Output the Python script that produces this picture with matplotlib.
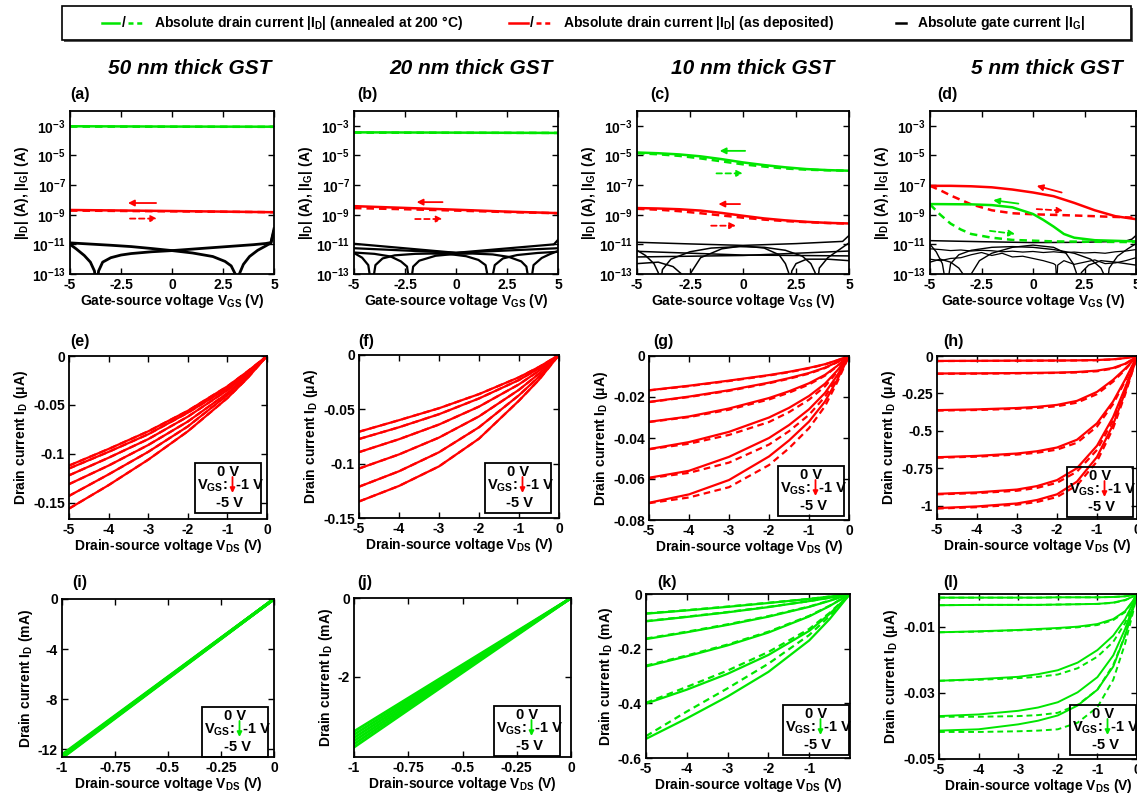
import numpy as np
import matplotlib
matplotlib.use('Agg')
import matplotlib.pyplot as plt
from matplotlib.patches import Rectangle, FancyArrowPatch
from matplotlib.lines import Line2D
from matplotlib.ticker import NullLocator

plt.rcParams['font.family'] = ['Liberation Sans', 'DejaVu Sans']
plt.rcParams['font.weight'] = 'bold'
plt.rcParams['axes.labelweight'] = 'bold'
plt.rcParams['mathtext.fontset'] = 'custom'
for k in ['rm', 'it', 'bf', 'sf']:
    plt.rcParams['mathtext.' + k] = 'Liberation Sans:bold'
plt.rcParams['mathtext.default'] = 'regular'
plt.rcParams['axes.unicode_minus'] = False

GREEN = '#00e600'
RED = '#ff0000'

# ---------------- transfer curves, log10 |I| (A) vs VGS (V) ----------------
vg3 = [-5, 0, 5]
vg5 = [-5, -2.5, 0, 2.5, 5]
vg11 = [-5, -4, -3, -2, -1, 0, 1, 2, 3, 4, 5]

# (a) 50 nm
a_green_solid = [-3.03, -3.05, -3.06]
a_green_dash = [-3.05, -3.06, -3.07]
a_red_solid = [-8.68, -8.75, -8.83]
a_red_dash = [-8.72, -8.77, -8.83]
a_gate1_x = [-5, -4, -3, -2, -1, 0, 1, 2, 2.6, 2.9, 3.1, 3.2, 3.3, 3.5, 3.8, 4.2, 4.6, 4.85, 5.0]
a_gate1 = [-10.9, -10.98, -11.06, -11.15, -11.28, -11.42, -11.58, -11.82, -12.15, -12.45, -13.0, -14.0,
           -13.0, -12.35, -11.82, -11.4, -11.1, -10.9, -10.1]
a_gate2_x = [-5, -4.7, -4.3, -4.0, -3.8, -3.7, -3.6, -3.4, -3, -2.5, -2, -1, 0, 1, 2, 3, 4, 4.6, 4.85, 5.0]
a_gate2 = [-11.0, -11.3, -11.75, -12.2, -12.8, -14.0, -12.8, -12.2, -11.9, -11.72, -11.62, -11.5, -11.42,
           -11.32, -11.22, -11.12, -11.02, -10.94, -10.88, -9.95]

# (b) 20 nm
b_green_solid = [-3.44, -3.46, -3.48]
b_green_dash = [-3.46, -3.47, -3.48]
b_red_solid = [-8.42, -8.54, -8.66, -8.79, -8.89]
b_red_dash = [-8.55, -8.63, -8.72, -8.82, -8.9]
b_line1 = [-10.96, -11.57, -11.26]
b_line2_x = [-5, 0, 4.8, 5]
b_line2 = [-11.26, -11.57, -11.0, -10.7]
b_arc1_x = [-5, -4.6, -4.3, -4.13, -3.95, -3.6, -3, -2, -1.2, -0.3, 0.5, 1.1, 1.45, 1.67, 1.9, 2.3, 3, 4, 5]
b_arc1 = [-11.58, -11.9, -12.4, -14.0, -12.4, -11.95, -11.74, -11.64, -11.62, -11.66, -11.8, -12.05,
          -12.4, -14.0, -12.4, -11.95, -11.72, -11.58, -11.5]
b_arc2_x = [-5, -4, -3.2, -2.7, -2.4, -2.25, -2.1, -1.8, -1, 0, 0.8, 1.8, 2.6, 3.2, 3.45, 3.63, 3.8, 4.2, 4.6, 5]
b_arc2 = [-11.55, -11.64, -11.82, -12.15, -12.5, -14.0, -12.5, -12.1, -11.77, -11.64, -11.62, -11.68,
          -11.85, -12.15, -12.5, -14.0, -12.4, -11.92, -11.66, -11.45]

# (c) 10 nm
c_green_solid = [-4.80, -4.85, -4.93, -5.06, -5.25, -5.47, -5.65, -5.80, -5.92, -5.99, -6.03]
c_green_dash = [-4.85, -4.92, -5.03, -5.20, -5.40, -5.60, -5.75, -5.88, -5.96, -6.00, -6.03]
c_red_solid = [-8.55, -8.58, -8.63, -8.72, -8.88, -9.07, -9.25, -9.38, -9.48, -9.55, -9.59]
c_red_dash = [-8.60, -8.66, -8.76, -8.90, -9.05, -9.20, -9.33, -9.43, -9.50, -9.56, -9.60]
c_line1_x = [-5, -2.5, 0, 2.5, 4.7, 5]
c_line1 = [-10.86, -10.97, -11.07, -10.95, -10.8, -10.4]
c_line2 = [-11.47, -11.72, -11.78]
c_line3 = [-11.85, -11.75, -11.45]
c_arc1_x = [-5, -4.6, -4.2, -4.0, -3.92, -3.8, -3.4, -2.5, -1.5, -0.2, 1, 2, 2.8, 3.2, 3.4, 3.48, 3.6, 4, 4.5, 5]
c_arc1 = [-11.4, -11.75, -12.3, -12.9, -14.0, -12.7, -12.0, -11.5, -11.25, -11.15, -11.2, -11.4, -11.8,
          -12.3, -12.9, -14.0, -12.6, -11.9, -11.4, -10.9]
c_arc2_x = [-5, -4, -3.3, -2.9, -2.7, -2.58, -2.45, -2, -1, 0, 1, 1.7, 2.0, 2.15, 2.22, 2.3, 2.5, 3, 4, 5]
c_arc2 = [-12.3, -12.2, -12.5, -13.0, -13.5, -14.0, -12.9, -11.9, -11.3, -11.1, -11.25, -11.7, -12.3,
          -12.9, -14.0, -12.8, -12.3, -12.0, -12.0, -12.1]

# (d) 5 nm
d_red_solid_x = [-5, -4, -3, -2, -1, 0, 1, 2, 3, 4, 5]
d_red_solid = [-7.05, -7.05, -7.08, -7.15, -7.3, -7.5, -7.75, -8.2, -8.7, -9.1, -9.3]
d_red_dash_x = [-5, -4.5, -4, -3, -2, -1, 0, 2, 5]
d_red_dash = [-7.05, -7.35, -7.7, -8.3, -8.7, -8.9, -8.97, -9.05, -9.2]
d_green_solid_x = [-5, -3, -2, -1, 0, 0.5, 1, 1.5, 2, 3, 5]
d_green_solid = [-8.28, -8.3, -8.35, -8.5, -8.95, -9.35, -9.8, -10.3, -10.55, -10.72, -10.8]
d_green_dash_x = [-5, -4.5, -4, -3.5, -3, -2, -1, 1, 5]
d_green_dash = [-8.3, -9.0, -9.6, -10.0, -10.3, -10.55, -10.7, -10.8, -10.85]
d_line1_x = [-5, -2.5, 0, 2.5, 4.5, 4.8, 5]
d_line1 = [-10.75, -10.82, -10.88, -10.86, -10.78, -10.65, -10.4]
d_noise_x = [-5, -4.5, -4, -3.5, -3, -2.5, -2, -1.5, -1, -0.5, 0, 0.5, 1, 1.5, 2, 2.5, 3, 3.5, 4, 4.5, 5]
d_noise1 = [-11.3, -11.35, -11.42, -11.38, -11.45, -11.4, -11.43, -11.5, -11.46, -11.52, -11.48, -11.55,
            -11.5, -11.56, -11.52, -11.58, -11.55, -11.6, -11.5, -11.45, -11.35]
d_noise2_x = [-5, -4.5, -4, -3.5, -3, -2.5, -2, -1.5, -1, -0.5, 0, 0.5, 1, 1.1, 1.15, 1.2, 1.5, 2, 2.5,
              3, 3.5, 4, 4.5, 5]
d_noise2 = [-12.0, -12.1, -11.95, -11.9, -11.7, -11.55, -11.75, -11.6, -11.85, -11.8, -11.95, -12.1,
            -12.3, -12.4, -13.6, -12.4, -12.1, -12.35, -12.2, -12.05, -12.3, -12.25, -12.1, -11.9]
d_arc1_x = [-5, -4.5, -4, -3.6, -3.3, -3.14, -3.0, -2.6, -2, -1, 0, 1, 1.6, 1.95, 2.1, 2.2, 2.35, 2.7,
            3.3, 4, 5]
d_arc1 = [-12.2, -12.0, -12.2, -12.6, -13.2, -14.0, -13.0, -12.1, -11.6, -11.2, -11.05, -11.2, -11.6,
          -12.3, -12.9, -14.0, -12.9, -12.4, -12.1, -12.2, -12.4]
d_arc2_x = [-5, -4.7, -4.4, -4.19, -4.0, -3.6, -3, -2, -1, 0, 1, 2, 2.8, 3.3, 3.5, 3.58, 3.7, 4.1, 4.6, 5]
d_arc2 = [-11.0, -11.5, -12.3, -14.0, -12.3, -11.7, -11.4, -11.2, -11.15, -11.2, -11.35, -11.6, -12.0,
          -12.6, -13.2, -14.0, -12.6, -11.8, -11.3, -10.95]

# ---------------- output curves, ID vs VDS, VGS = 0 ... -5 V ----------------
vd7 = [-5, -4, -3, -2, -1, -0.5, 0]
vd9 = [-5, -4, -3, -2, -1.5, -1, -0.6, -0.3, 0]
vd11 = [-5, -4, -3, -2.5, -2, -1.5, -1, -0.6, -0.3, -0.1, 0]
vd2 = [-1, 0]

# (e) uA
e_id = [[-0.112, -0.095, -0.077, -0.056, -0.031, -0.016, 0],
        [-0.115, -0.098, -0.080, -0.058, -0.033, -0.017, 0],
        [-0.122, -0.104, -0.085, -0.062, -0.035, -0.018, 0],
        [-0.131, -0.112, -0.091, -0.067, -0.038, -0.020, 0],
        [-0.143, -0.121, -0.098, -0.072, -0.040, -0.021, 0],
        [-0.156, -0.132, -0.106, -0.077, -0.043, -0.023, 0]]
# (f) uA
f_id = [[-0.0706, -0.0600, -0.0490, -0.0360, -0.0205, -0.0110, 0],
        [-0.0773, -0.0665, -0.0545, -0.0400, -0.0230, -0.0123, 0],
        [-0.0894, -0.0775, -0.0640, -0.0475, -0.0270, -0.0145, 0],
        [-0.1045, -0.0915, -0.0760, -0.0565, -0.0320, -0.0172, 0],
        [-0.1212, -0.1070, -0.0895, -0.0665, -0.0370, -0.0200, 0],
        [-0.1348, -0.1205, -0.1025, -0.0770, -0.0420, -0.0228, 0]]
# (g) uA
g_id = [[-0.0167, -0.0145, -0.0120, -0.0093, -0.0077, -0.0058, -0.0040, -0.0021, 0],
        [-0.0224, -0.0198, -0.0167, -0.0130, -0.0108, -0.0083, -0.0057, -0.0030, 0],
        [-0.0321, -0.0295, -0.0256, -0.0205, -0.0172, -0.0133, -0.0092, -0.0049, 0],
        [-0.0454, -0.0420, -0.0370, -0.0300, -0.0253, -0.0195, -0.0135, -0.0072, 0],
        [-0.0594, -0.0560, -0.0492, -0.0400, -0.0337, -0.0260, -0.0180, -0.0096, 0],
        [-0.0716, -0.0675, -0.0605, -0.0490, -0.0412, -0.0320, -0.0222, -0.0118, 0]]
g_id_dash = [[-0.0168, -0.0147, -0.0122, -0.0095, -0.0079, -0.0060, -0.0041, -0.0022, 0],
             [-0.0225, -0.0200, -0.0170, -0.0133, -0.0111, -0.0086, -0.0059, -0.0031, 0],
             [-0.0322, -0.0298, -0.0262, -0.0212, -0.0179, -0.0139, -0.0096, -0.0051, 0],
             [-0.0455, -0.0428, -0.0385, -0.0322, -0.0274, -0.0213, -0.0148, -0.0079, 0],
             [-0.0596, -0.0570, -0.0520, -0.0432, -0.0367, -0.0287, -0.0199, -0.0106, 0],
             [-0.0718, -0.0690, -0.0640, -0.0532, -0.0450, -0.0352, -0.0245, -0.0130, 0]]
# (h) uA
h_id = [[-0.033, -0.032, -0.031, -0.0305, -0.030, -0.029, -0.027, -0.022, -0.014, -0.005, 0],
        [-0.117, -0.116, -0.114, -0.1125, -0.111, -0.107, -0.098, -0.080, -0.052, -0.020, 0],
        [-0.362, -0.357, -0.348, -0.340, -0.327, -0.300, -0.240, -0.160, -0.086, -0.030, 0],
        [-0.677, -0.668, -0.652, -0.637, -0.612, -0.560, -0.450, -0.305, -0.160, -0.055, 0],
        [-0.922, -0.912, -0.893, -0.870, -0.830, -0.750, -0.600, -0.410, -0.215, -0.075, 0],
        [-1.017, -1.006, -0.986, -0.963, -0.925, -0.840, -0.675, -0.460, -0.245, -0.085, 0]]
h_id_dash = [[-0.034, -0.033, -0.032, -0.0315, -0.031, -0.030, -0.028, -0.023, -0.015, -0.005, 0],
             [-0.119, -0.118, -0.116, -0.115, -0.113, -0.110, -0.102, -0.084, -0.055, -0.021, 0],
             [-0.365, -0.361, -0.353, -0.347, -0.336, -0.312, -0.255, -0.172, -0.093, -0.032, 0],
             [-0.680, -0.673, -0.659, -0.647, -0.626, -0.580, -0.472, -0.322, -0.170, -0.058, 0],
             [-0.925, -0.917, -0.901, -0.882, -0.848, -0.773, -0.628, -0.432, -0.228, -0.079, 0],
             [-1.020, -1.011, -0.994, -0.976, -0.943, -0.865, -0.705, -0.485, -0.260, -0.090, 0]]
# (i) mA, value at VDS = -1 V
i_id_end = [-12.42, -12.48, -12.53, -12.58, -12.63, -12.68]
# (j) mA, value at VDS = -1 V
j_id_end = [-3.40, -3.48, -3.56, -3.64, -3.72, -3.80]
# (k) mA
k_id = [[-0.072, -0.060, -0.047, -0.033, -0.018, -0.0095, 0],
        [-0.100, -0.084, -0.067, -0.048, -0.026, -0.0138, 0],
        [-0.165, -0.140, -0.113, -0.083, -0.047, -0.025, 0],
        [-0.265, -0.228, -0.188, -0.141, -0.082, -0.044, 0],
        [-0.401, -0.350, -0.292, -0.223, -0.135, -0.073, 0],
        [-0.530, -0.455, -0.375, -0.285, -0.170, -0.092, 0]]
k_id_dash = [[-0.071, -0.059, -0.046, -0.032, -0.018, -0.0093, 0],
             [-0.099, -0.083, -0.066, -0.047, -0.026, -0.0135, 0],
             [-0.163, -0.138, -0.111, -0.081, -0.046, -0.024, 0],
             [-0.262, -0.225, -0.185, -0.138, -0.080, -0.043, 0],
             [-0.398, -0.340, -0.280, -0.212, -0.128, -0.069, 0],
             [-0.520, -0.430, -0.345, -0.255, -0.150, -0.081, 0]]
# (l) uA
l_id = [[-0.0011, -0.0011, -0.0011, -0.0011, -0.0010, -0.0010, -0.0010, -0.0009, -0.0007, -0.0003, 0],
        [-0.0034, -0.0033, -0.0033, -0.0033, -0.0032, -0.0031, -0.0030, -0.0026, -0.0018, -0.0008, 0],
        [-0.0116, -0.0113, -0.0109, -0.0106, -0.0103, -0.0099, -0.0091, -0.0076, -0.0052, -0.0020, 0],
        [-0.0263, -0.0258, -0.0251, -0.0243, -0.0231, -0.0208, -0.0170, -0.0126, -0.0076, -0.0028, 0],
        [-0.0370, -0.0365, -0.0354, -0.0344, -0.0328, -0.0298, -0.0252, -0.0186, -0.0106, -0.0038, 0],
        [-0.0414, -0.0410, -0.0395, -0.0384, -0.0368, -0.0338, -0.0290, -0.0220, -0.0126, -0.0045, 0]]
l_id_dash = [[-0.0011, -0.0011, -0.0011, -0.0011, -0.0010, -0.0010, -0.0010, -0.0009, -0.0007, -0.0003, 0],
             [-0.0034, -0.0033, -0.0033, -0.0033, -0.0032, -0.0031, -0.0030, -0.0027, -0.0019, -0.0008, 0],
             [-0.0116, -0.0114, -0.0110, -0.0108, -0.0105, -0.0101, -0.0094, -0.0079, -0.0055, -0.0021, 0],
             [-0.0263, -0.0260, -0.0255, -0.0251, -0.0244, -0.0225, -0.0190, -0.0145, -0.0088, -0.0032, 0],
             [-0.0372, -0.0372, -0.0370, -0.0367, -0.0360, -0.0336, -0.0290, -0.0215, -0.0125, -0.0045, 0],
             [-0.0418, -0.0418, -0.0416, -0.0414, -0.0410, -0.0390, -0.0343, -0.0260, -0.0150, -0.0055, 0]]

W, H = 1137, 794
fig = plt.figure(figsize=(W / 100, H / 100), dpi=100)


def add_ax(x0, y0, x1, y1):
    ax = fig.add_axes([x0 / W, 1 - y1 / H, (x1 - x0) / W, (y1 - y0) / H])
    ax.tick_params(direction='in', top=True, right=True, length=4, width=1, labelsize=10, pad=3)
    for s in ax.spines.values():
        s.set_linewidth(1.3)
    return ax


def ftext(x, y, s, **kw):
    return fig.text(x / W, 1 - y / H, s, **kw)


def lg(v):
    return 10.0 ** np.array(v)


def arrow(ax, x0, y0, x1, y1, color, dashed=False):
    ax.annotate('', xy=(x1, 10 ** y1), xytext=(x0, 10 ** y0),
                arrowprops=dict(arrowstyle='-|>', color=color, lw=1.3, ls=(0, (3, 2)) if dashed else '-',
                                mutation_scale=9, shrinkA=0, shrinkB=0))


def transfer_axes(box):
    ax = add_ax(*box)
    ax.set_yscale('log')
    ax.set_xlim(-5, 5)
    ax.set_ylim(1e-13, 1e-2)
    ax.set_yticks([1e-13, 1e-11, 1e-9, 1e-7, 1e-5, 1e-3],
                  ['10$^{-13}$', '10$^{-11}$', '10$^{-9}$', '10$^{-7}$', '10$^{-5}$', '10$^{-3}$'])
    ax.yaxis.set_minor_locator(NullLocator())
    ax.set_xticks([-5, -2.5, 0, 2.5, 5], ['-5', '-2.5', '0', '2.5', '5'])
    ax.set_xlabel('Gate-source voltage V$_{GS}$ (V)', fontsize=10, labelpad=0)
    ax.set_ylabel('|I$_D$| (A), |I$_G$| (A)', fontsize=10, labelpad=1)
    return ax


def dline(ax, x, y, color, lw=1.8):
    ax.plot(x, y, color=color, lw=lw, ls=(0, (3, 2)))


# ---------------- row 1 ----------------
ax = transfer_axes((70, 111, 274, 274))
ax.plot(a_gate1_x, lg(a_gate1), color='k', lw=2)
ax.plot(a_gate2_x, lg(a_gate2), color='k', lw=2)
ax.plot(vg3, lg(a_green_solid), color=GREEN, lw=1.8)
dline(ax, vg3, lg(a_green_dash), GREEN)
ax.plot(vg3, lg(a_red_solid), color=RED, lw=1.8)
dline(ax, vg3, lg(a_red_dash), RED)
arrow(ax, -0.78, -8.21, -2.16, -8.21, RED)
arrow(ax, -2.06, -9.26, -0.73, -9.26, RED, True)

ax = transfer_axes((354, 111, 558, 274))
ax.plot(vg3, lg(b_line1), color='k', lw=1.6)
ax.plot(b_line2_x, lg(b_line2), color='k', lw=1.6)
ax.plot(b_arc1_x, lg(b_arc1), color='k', lw=1.6)
ax.plot(b_arc2_x, lg(b_arc2), color='k', lw=1.6)
ax.plot(vg3, lg(b_green_solid), color=GREEN, lw=1.8)
dline(ax, vg3, lg(b_green_dash), GREEN)
ax.plot(vg5, lg(b_red_solid), color=RED, lw=1.8)
dline(ax, vg5, lg(b_red_dash), RED)
arrow(ax, -0.66, -8.15, -1.93, -8.15, RED)
arrow(ax, -2.0, -9.29, -0.66, -9.29, RED, True)

ax = transfer_axes((637, 111, 849, 274))
ax.plot(c_line1_x, lg(c_line1), color='k', lw=1.1)
ax.plot(vg3, lg(c_line2), color='k', lw=1.1)
ax.plot(vg3, lg(c_line3), color='k', lw=1.1)
ax.plot(c_arc1_x, lg(c_arc1), color='k', lw=1.1)
ax.plot(c_arc2_x, lg(c_arc2), color='k', lw=1.1)
ax.plot(vg11, lg(c_green_solid), color=GREEN, lw=1.8)
dline(ax, vg11, lg(c_green_dash), GREEN)
ax.plot(vg11, lg(c_red_solid), color=RED, lw=1.8)
dline(ax, vg11, lg(c_red_dash), RED)
arrow(ax, 0.1, -4.69, -1.1, -4.69, GREEN)
arrow(ax, -1.25, -6.21, 0.0, -6.21, GREEN, True)
arrow(ax, -0.14, -8.28, -1.16, -8.28, RED)
arrow(ax, -1.5, -9.74, -0.33, -9.74, RED, True)

ax = transfer_axes((930, 111, 1136, 274))
ax.plot(d_line1_x, lg(d_line1), color='k', lw=1.1)
ax.plot(d_noise_x, lg(d_noise1), color='k', lw=0.9)
ax.plot(d_noise2_x, lg(d_noise2), color='k', lw=0.9)
ax.plot(d_arc1_x, lg(d_arc1), color='k', lw=1.0)
ax.plot(d_arc2_x, lg(d_arc2), color='k', lw=1.0)
ax.plot(d_red_solid_x, lg(d_red_solid), color=RED, lw=1.8)
dline(ax, d_red_dash_x, lg(d_red_dash), RED)
ax.plot(d_green_solid_x, lg(d_green_solid), color=GREEN, lw=1.8)
dline(ax, d_green_dash_x, lg(d_green_dash), GREEN)
arrow(ax, 1.39, -7.5, 0.18, -7.05, RED)
arrow(ax, 0.18, -8.62, 1.47, -8.73, RED, True)
arrow(ax, -0.71, -8.25, -1.93, -8.02, GREEN)
arrow(ax, -2.09, -10.09, -0.87, -10.3, GREEN, True)


# ---------------- rows 2 and 3 ----------------
def output_axes(box, xlim, ylim, xticks, xlabels, yticks, ylabels, unit):
    ax = add_ax(*box)
    ax.set_xlim(*xlim)
    ax.set_ylim(*ylim)
    ax.set_xticks(xticks, xlabels)
    ax.set_yticks(yticks, ylabels)
    ax.set_xlabel('Drain-source voltage V$_{DS}$ (V)', fontsize=10, labelpad=0)
    ax.set_ylabel('Drain current I$_D$ (' + unit + ')', fontsize=10, labelpad=2)
    return ax


def curves(ax, x, solid, dash, color, lw=1.6):
    for ys in solid:
        ax.plot(x, ys, color=color, lw=lw)
    for ys in dash:
        ax.plot(x, ys, color=color, lw=lw, ls=(0, (3, 2)))


vticks = [-5, -4, -3, -2, -1, 0]
vlabels = ['-5', '-4', '-3', '-2', '-1', '0']
sticks = [-1, -0.75, -0.5, -0.25, 0]
slabels = ['-1', '-0.75', '-0.5', '-0.25', '0']

ax = output_axes((69, 356, 267, 519), (-5, 0), (-0.1666, 0), vticks, vlabels,
                 [-0.15, -0.1, -0.05, 0], ['-0.15', '-0.1', '-0.05', '0'], 'μA')
curves(ax, vd7, e_id, e_id, RED)
ax = output_axes((359, 355, 559, 518), (-5, 0), (-0.15, 0), vticks, vlabels,
                 [-0.15, -0.1, -0.05, 0], ['-0.15', '-0.1', '-0.05', '0'], 'μA')
curves(ax, vd7, f_id, f_id, RED)
ax = output_axes((649, 356, 849, 520), (-5, 0), (-0.08, 0), vticks, vlabels,
                 [-0.08, -0.06, -0.04, -0.02, 0], ['-0.08', '-0.06', '-0.04', '-0.02', '0'], 'μA')
curves(ax, vd9, g_id, g_id_dash, RED)
ax = output_axes((937, 356, 1137, 519), (-5, 0), (-1.09, 0), vticks, vlabels,
                 [-1, -0.75, -0.5, -0.25, 0], ['-1', '-0.75', '-0.5', '-0.25', '0'], 'μA')
curves(ax, vd11, h_id, h_id_dash, RED)

ax = output_axes((62, 599, 274, 757), (-1, 0), (-12.6, 0), sticks, slabels,
                 [-12, -8, -4, 0], ['-12', '-8', '-4', '0'], 'mA')
for v in i_id_end:
    ax.plot(vd2, [v, 0], color=GREEN, lw=2.2)
ax = output_axes((354, 598, 571, 757), (-1, 0), (-4.05, 0), sticks, slabels,
                 [-2, 0], ['-2', '0'], 'mA')
for v in j_id_end:
    ax.plot(vd2, [v, 0], color=GREEN, lw=2.0)
ax = output_axes((646, 594, 850, 758), (-5, 0), (-0.6, 0), vticks[:-1], vlabels[:-1],
                 [-0.6, -0.4, -0.2, 0], ['-0.6', '-0.4', '-0.2', '0'], 'mA')
curves(ax, vd7, k_id, k_id_dash, GREEN)
ax = output_axes((939, 594, 1137, 759), (-5, 0), (-0.05, 0), vticks, vlabels,
                 [-0.05, -0.03, -0.01], ['-0.05', '-0.03', '-0.01'], 'μA')
curves(ax, vd11, l_id, l_id_dash, GREEN, lw=1.4)


# VGS boxes
def vgs_box(x0, y0, color):
    fig.add_artist(Rectangle((x0 / W, 1 - (y0 + 50) / H), 66 / W, 50 / H, transform=fig.transFigure,
                             fill=False, ec='black', lw=1.3))
    ftext(x0 + 33, y0 + 9, '0 V', ha='center', va='center', fontsize=10.5)
    ftext(x0 + 33, y0 + 23, 'V$_{GS}$:', ha='right', va='center', fontsize=10.5)
    ftext(x0 + 41, y0 + 22, '-1 V', ha='left', va='center', fontsize=10.5)
    ftext(x0 + 35, y0 + 40, '-5 V', ha='center', va='center', fontsize=10.5)
    fig.add_artist(FancyArrowPatch(((x0 + 37.5) / W, 1 - (y0 + 14) / H), ((x0 + 37.5) / W, 1 - (y0 + 30) / H),
                                   transform=fig.transFigure, arrowstyle='-|>', mutation_scale=7,
                                   color=color, lw=1.3, shrinkA=0, shrinkB=0))


for bx, by, col in [(195, 463, RED), (485, 463, RED), (778, 466, RED), (1067, 467, RED),
                    (202, 707, GREEN), (494, 706, GREEN), (783, 705, GREEN), (1070, 705, GREEN)]:
    vgs_box(bx, by, col)

# column titles and panel labels
for cx, t in [(190, '50 nm thick GST'), (471, '20 nm thick GST'), (753, '10 nm thick GST'),
              (1047, '5 nm thick GST')]:
    ftext(cx, 68, t, ha='center', va='center', fontsize=15, fontweight='bold', fontstyle='italic')

for x, y, t in [(70, 95, '(a)'), (357, 95, '(b)'), (650, 95, '(c)'), (937, 95, '(d)'),
                (70, 342, '(e)'), (358, 342, '(f)'), (653, 342, '(g)'), (943, 342, '(h)'),
                (72, 582, '(i)'), (357, 582, '(j)'), (657, 582, '(k)'), (943, 582, '(l)')]:
    ftext(x, y, t, ha='left', va='center', fontsize=11.5)

# top legend
fig.add_artist(Rectangle((64 / W, 1 - 42 / H), (1131 - 62) / W, 34 / H, transform=fig.transFigure,
                         fill=True, fc='#555555', ec='none'))
fig.add_artist(Rectangle((62 / W, 1 - 40 / H), (1131 - 62) / W, 34 / H, transform=fig.transFigure,
                         fill=True, fc='white', ec='black', lw=1.2))


def leg_seg(x0, x1, color, dashed=False):
    fig.add_artist(Line2D([x0 / W, x1 / W], [1 - 23 / H, 1 - 23 / H], transform=fig.transFigure,
                          color=color, lw=1.8, ls=(0, (2, 1.5)) if dashed else '-'))


leg_seg(102, 119, GREEN)
ftext(124, 23, '/', ha='center', va='center', fontsize=10)
leg_seg(128, 143, GREEN, True)
ftext(154, 23, 'Absolute drain current |I$_D$| (annealed at 200 °C)', ha='left', va='center', fontsize=10)
leg_seg(509, 528, RED)
ftext(532, 23, '/', ha='center', va='center', fontsize=10)
leg_seg(536, 552, RED, True)
ftext(563, 23, 'Absolute drain current |I$_D$| (as deposited)', ha='left', va='center', fontsize=10)
leg_seg(896, 906, 'black')
ftext(917, 23, 'Absolute gate current |I$_G$|', ha='left', va='center', fontsize=10)

fig.savefig('out.png', dpi=100)
